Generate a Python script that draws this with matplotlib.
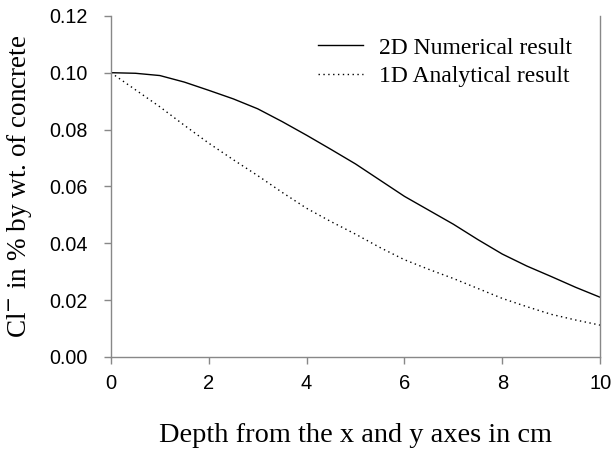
import matplotlib
matplotlib.use("Agg")
import matplotlib.pyplot as plt

depth = [0, 0.5, 1, 1.5, 2, 2.5, 3, 3.5, 4, 4.5, 5, 5.5, 6, 6.5, 7, 7.5, 8, 8.5, 9, 9.5, 10]
numerical_2d = [0.1000, 0.0998, 0.0990, 0.0967, 0.0938, 0.0908, 0.0873, 0.0828, 0.0780, 0.0730,
                0.0679, 0.0622, 0.0565, 0.0516, 0.0467, 0.0413, 0.0362, 0.0320, 0.0283, 0.0245, 0.0210]
analytical_1d = [0.1000, 0.0940, 0.0880, 0.0815, 0.0752, 0.0694, 0.0638, 0.0579, 0.0523, 0.0476,
                 0.0432, 0.0385, 0.0342, 0.0308, 0.0276, 0.0241, 0.0206, 0.0177, 0.0150, 0.0130, 0.0112]
xticks = [0, 2, 4, 6, 8, 10]
yticks = [0.00, 0.02, 0.04, 0.06, 0.08, 0.10, 0.12]

serif = ["Liberation Serif", "DejaVu Serif"]
sans = ["Liberation Sans", "DejaVu Sans"]

fig = plt.figure(figsize=(6.13, 4.53), dpi=100)
ax = fig.add_axes([0.181, 0.212, 0.798, 0.753])

ax.plot(depth, numerical_2d, color="black", lw=1.0, label="2D Numerical result")
ax.plot(depth, analytical_1d, color="black", lw=1.0, linestyle=(0, (1, 2.5)), label="1D Analytical result")

ax.set_xlim(0, 10)
ax.set_ylim(0, 0.12)
ax.set_xticks(xticks)
ax.set_yticks(yticks)
ax.set_xticklabels([f"{t:d}" for t in xticks], fontfamily=sans, fontsize=14.5)
ax.set_yticklabels([f"{t:.2f}" for t in yticks], fontfamily=sans, fontsize=14.2)

for s in ["left", "right", "bottom"]:
    ax.spines[s].set_color("#888888")
    ax.spines[s].set_linewidth(1.0)
ax.spines["top"].set_visible(False)
ax.tick_params(axis="both", direction="out", length=5, color="#888888", width=1.0)
ax.tick_params(axis="y", pad=12)
ax.tick_params(axis="x", pad=7)

ax.set_xlabel("Depth from the x and y axes in cm", fontfamily=serif, fontsize=20.4, labelpad=22)
ax.set_ylabel("Cl$^{-}$ in % by wt. of concrete", fontfamily=serif, fontsize=19.5)
ax.yaxis.set_label_coords(-0.158, 0.5)

leg = ax.legend(loc="upper right", bbox_to_anchor=(0.985, 1.0), frameon=False,
                prop={"family": serif, "size": 17}, handlelength=1.9, handletextpad=0.65,
                labelspacing=0.3)

fig.savefig("out.png", dpi=100)
